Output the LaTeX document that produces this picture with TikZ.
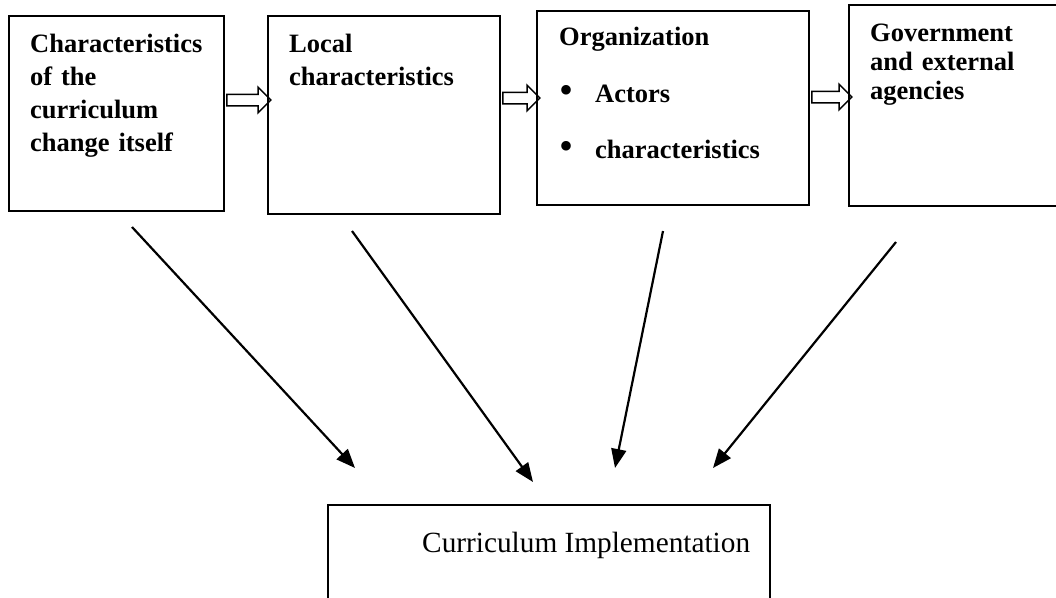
\documentclass[tikz,border=0pt]{standalone}
\usepackage{fontspec}
\setmainfont{Liberation Serif}
\usetikzlibrary{arrows.meta,shapes.arrows}
\tikzset{
    box/.style={draw, rectangle, line width=2.2pt, inner sep=0pt},
    boxtext/.style={anchor=base west, inner sep=0pt, align=left, text width=#1, font=\bfseries\fontsize{26.5}{33}\selectfont},
    hollow/.style={draw, single arrow, line width=1.5pt, single arrow head extend=7pt, inner sep=5pt, minimum width=0pt, minimum height=#1},
    feed/.style={-{Triangle[length=19pt, width=15pt]}, line width=2.2pt}
}
\newcommand{\dotmark}{\makebox[36pt][l]{\raisebox{-1.5pt}{\mdseries\fontsize{40}{33}\selectfont\textbullet}}}

\begin{document}
\begin{tikzpicture}[x=1pt, y=-1pt]
\clip (0,0) rectangle (1056,597);
% the four factors
\node[box, minimum width=215, minimum height=195] (c1) at (116.5,113.5) {};
\node[box, minimum width=232, minimum height=198] (c2) at (384,115) {};
\node[box, minimum width=272, minimum height=194] (c3) at (673,108) {};
\node[box, minimum width=221, minimum height=201] (c4) at (959.5,105.5) {};
\node[boxtext=190] (t1) at (30,52) {Characteristics\\of the\\curriculum\\change itself};
\node[boxtext=200] (t2) at (289,52) {Local\\characteristics};
\node[boxtext=240] (t3) at (559,45) {Organization\\[24pt]
    \dotmark Actors\\[23pt]
    \dotmark characteristics};
\node[boxtext=180, font=\bfseries\fontsize{26.5}{29}\selectfont] (t4) at (870,41) {Government\\and external\\agencies};
% outcome
\node[box, minimum width=442, minimum height=115] (ci) at (549,562.5) {};
\node[anchor=base west, inner sep=0pt, font=\fontsize{29.3}{35}\selectfont] (tci) at (422,552) {Curriculum Implementation};
% block arrows between the factors
\path (c1.east |- 0,100) -- (c2.west |- 0,100) node[midway, hollow=44] {};
\path (c2.east |- 0,98) -- (c3.west |- 0,98) node[midway, hollow=37] {};
\path (c3.east |- 0,97) -- (c4.west |- 0,97) node[midway, hollow=40] {};
% arrows to the outcome
\coordinate (s1) at (132,227);
\coordinate (e1) at (355,468);
\coordinate (s2) at (352,231);
\coordinate (e2) at (533,482);
\coordinate (s3) at (663,231);
\coordinate (e3) at (615,468);
\coordinate (s4) at (896,242);
\coordinate (e4) at (713,468);
\draw[feed] (s1) -- (e1);
\draw[feed] (s2) -- (e2);
\draw[feed] (s3) -- (e3);
\draw[feed] (s4) -- (e4);
\end{tikzpicture}
\end{document}
